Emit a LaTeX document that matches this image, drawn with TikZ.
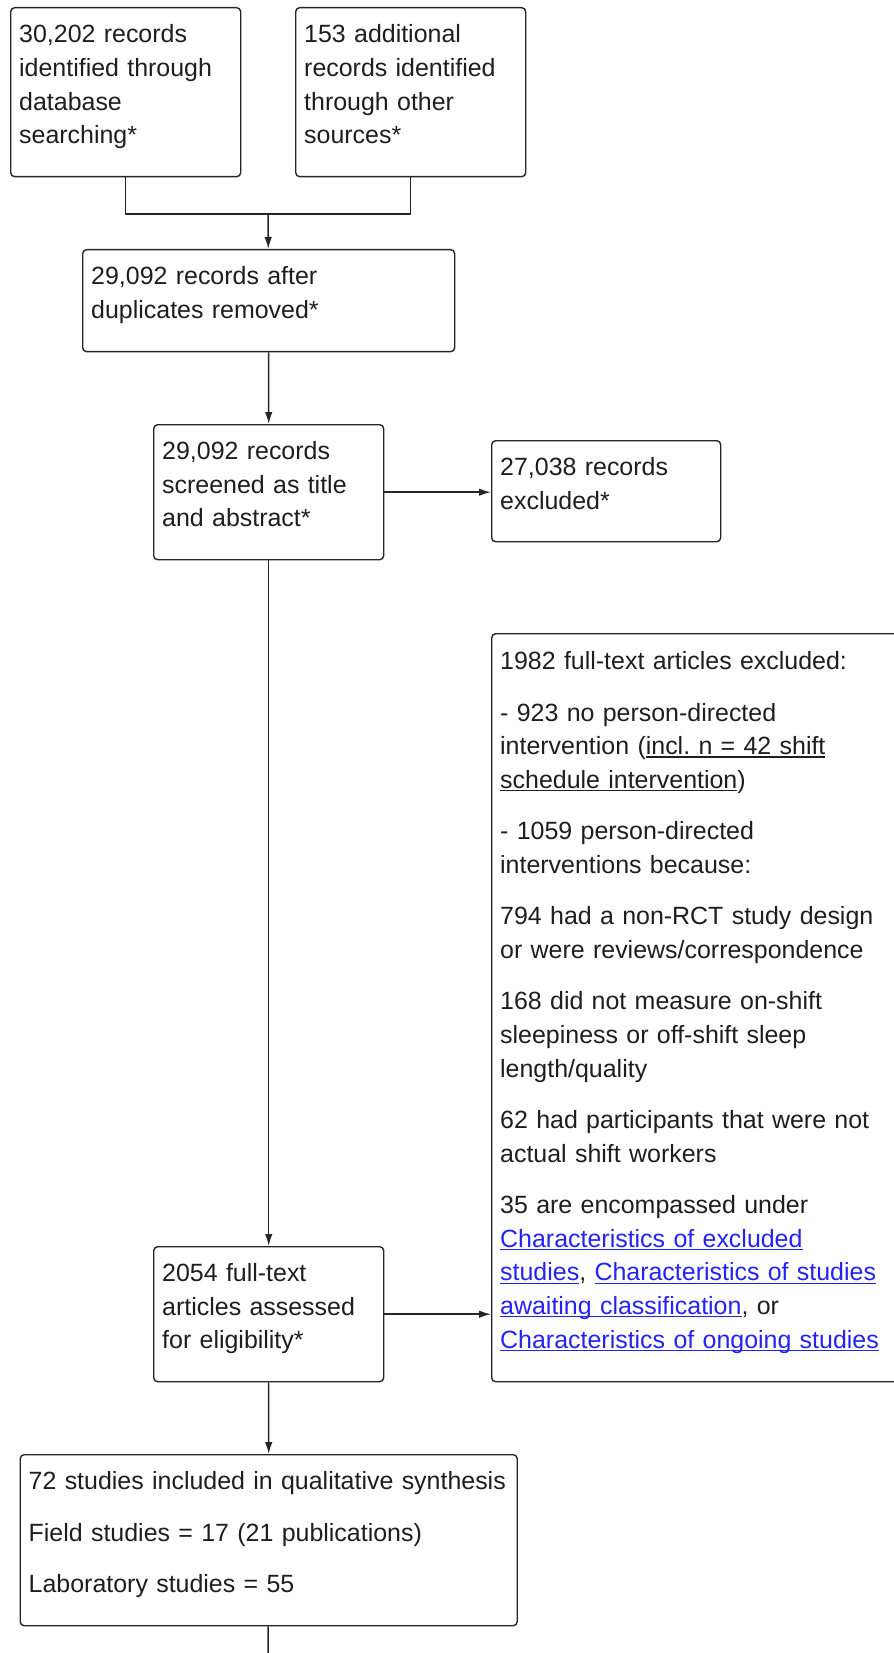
\documentclass[tikz,border=0pt]{standalone}
\usepackage{fontspec}
\setmainfont{Liberation Sans}
\usetikzlibrary{arrows.meta}
\definecolor{prismaink}{HTML}{1E1E1E}
\definecolor{prismaline}{HTML}{262626}
\definecolor{prismalink}{HTML}{2323F5}

\newsavebox{\ulbox}
\newcommand{\ulin}[1]{\leavevmode\sbox{\ulbox}{#1}\rlap{\rule[-0.06cm]{\wd\ulbox}{0.026cm}}\usebox{\ulbox}}
\newcommand{\lnk}[1]{\leavevmode{\color{prismalink}\ulin{#1}}}
\newcommand{\boxpad}{\rule[-0.32cm]{0pt}{0.32cm}}

\begin{document}
\begin{tikzpicture}[
  every node/.style={font=\fontsize{14.2}{19.1}\selectfont, text=prismaink},
  recbox/.style={draw=prismaline, line width=0.028cm, rounded corners=0.08cm, anchor=north west, align=left, inner xsep=0.17cm, inner ysep=0pt},
  arr/.style={-{Latex[length=0.24cm,width=0.15cm]}, prismaline, line width=0.03cm},
  link/.style={prismaline, line width=0.03cm}
]
  \useasboundingbox (0,0) rectangle (17.88,-33.06);
  \clip (0,0) rectangle (17.88,-33.06);

  \node[recbox, text width=4.26cm, minimum height=3.38cm] (dbsearch) at (0.20,-0.14) {30,202 records\\identified through\\database\\searching*\boxpad};
  \node[recbox, text width=4.26cm, minimum height=3.38cm] (othersrc) at (5.90,-0.14) {153 additional\\records identified\\through other\\sources*\boxpad};
  \coordinate (merge) at (5.36,-4.28);

  \node[recbox, text width=7.10cm, minimum height=2.04cm] (dedup) at (1.64,-4.98) {29,092 records after\\duplicates removed*\boxpad};
  \node[recbox, text width=4.26cm, minimum height=2.70cm] (screened) at (3.06,-8.48) {29,092 records\\screened as title\\and abstract*\boxpad};
  \node[recbox, text width=4.24cm, minimum height=2.02cm] (excluded) at (9.82,-8.80) {27,038 records\\excluded*\boxpad};

  \node[recbox, text width=8.40cm, minimum height=14.96cm] (ftexcl) at (9.82,-12.66) {1982 full-text articles excluded:\\[0.36cm]
    - 923 no person-directed\\
    intervention (\ulin{incl.\ n = 42 shift}\\
    \ulin{schedule intervention})\\[0.36cm]
    - 1059 person-directed\\
    interventions because:\\[0.36cm]
    794 had a non-RCT study design\\
    or were reviews/correspondence\\[0.36cm]
    168 did not measure on-shift\\
    sleepiness or off-shift sleep\\
    length/quality\\[0.36cm]
    62 had participants that were not\\
    actual shift workers\\[0.36cm]
    35 are encompassed under\\
    \lnk{Characteristics of excluded}\\
    \lnk{studies}, \lnk{Characteristics of studies}\\
    \lnk{awaiting classification}, or\\
    \lnk{Characteristics of ongoing studies}\boxpad};

  \node[recbox, text width=4.26cm, minimum height=2.70cm] (fulltext) at (3.06,-24.92) {2054 full-text\\articles assessed\\for eligibility*\boxpad};
  \node[recbox, text width=9.60cm, minimum height=3.42cm] (included) at (0.39,-29.08) {72 studies included in qualitative synthesis\\[0.36cm]Field studies = 17 (21 publications)\\[0.36cm]Laboratory studies = 55\boxpad};
  \coordinate (pagebottom) at (5.36,-33.06);

  \draw[link] (dbsearch.south) |- (merge) -| (othersrc.south);
  \draw[arr] (merge) -- (dedup);
  \draw[arr] (dedup) -- (screened);
  \draw[arr] (screened.east) -- (screened.east -| excluded.west);
  \draw[arr] (screened) -- (fulltext);
  \draw[arr] (fulltext.east) -- (fulltext.east -| ftexcl.west);
  \draw[arr] (fulltext) -- (included);
  \draw[link] (included) -- (pagebottom);
\end{tikzpicture}
\end{document}
